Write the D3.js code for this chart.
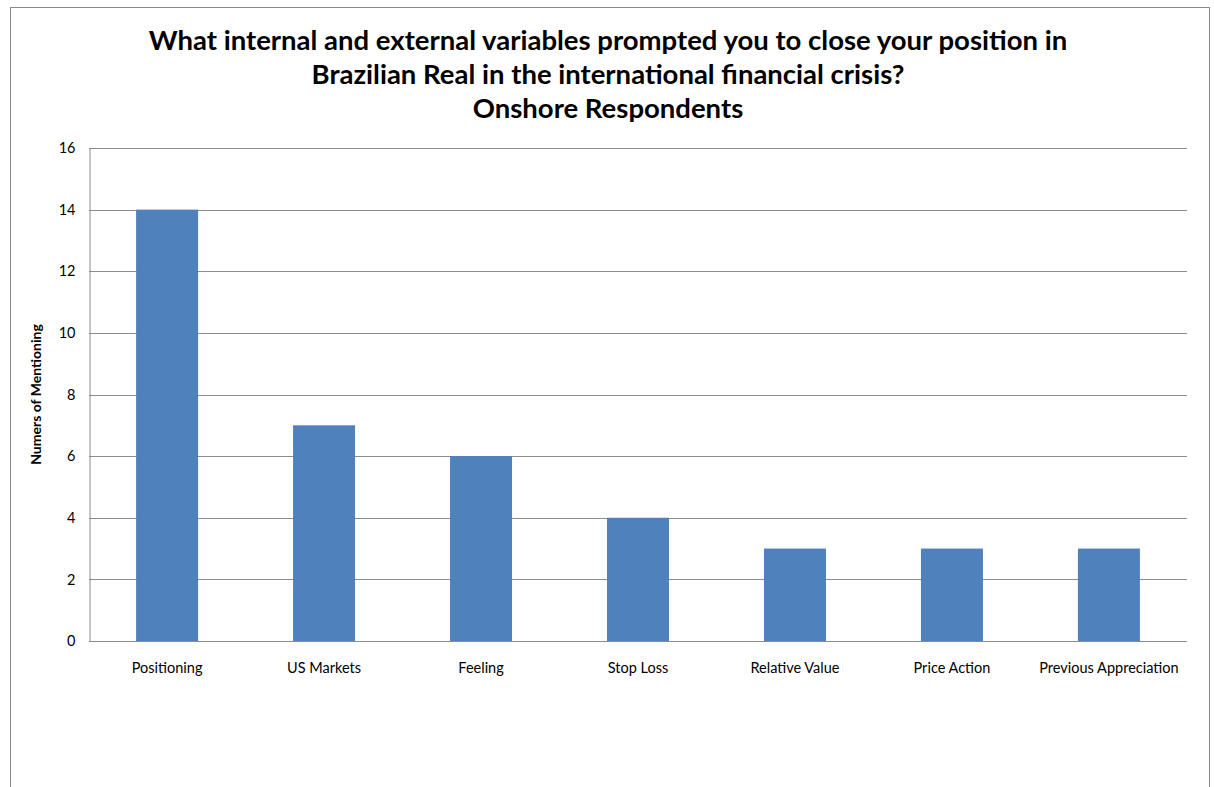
<!DOCTYPE html>
<html><head><meta charset="utf-8">
<script src="https://cdn.jsdelivr.net/npm/d3@7"></script>
<style>body{margin:0;background:#fff;} svg{display:block;}</style>
</head><body>
<svg id="c" width="1214" height="787"></svg>
<script>
const titleLines = ["What internal and external variables prompted you to close your position in", "Brazilian Real in the international financial crisis?", "Onshore Respondents"];
const categories = ["Positioning", "US Markets", "Feeling", "Stop Loss", "Relative Value", "Price Action", "Previous Appreciation"];
const values = [14, 7, 6, 4, 3, 3, 3];
const yTicks = [0, 2, 4, 6, 8, 10, 12, 14, 16];
const yLabel = "Numers of Mentioning";

const svg = d3.select("#c");
const font = "Lato, 'Open Sans', sans-serif";
svg.append("rect").attr("x", 10.5).attr("y", 7.5).attr("width", 1199).attr("height", 800)
  .attr("fill", "#fff").attr("stroke", "#8a8a8a").attr("stroke-width", 1);

const L = 89, R = 1187, T = 148, B = 641;
const x = d3.scaleBand().domain(categories).range([L, R]).paddingInner(0.605).paddingOuter(0.3);
const y = d3.scaleLinear().domain([0, 16]).range([B, T]);

// gridlines
svg.append("g").selectAll("line").data(yTicks).join("line")
  .attr("x1", L).attr("x2", R).attr("y1", d => Math.round(y(d)) + 0.5).attr("y2", d => Math.round(y(d)) + 0.5)
  .attr("stroke", "#8c8c8c").attr("stroke-width", 1);

// bars
svg.append("g").selectAll("rect").data(values).join("rect")
  .attr("x", (d, i) => x(categories[i]))
  .attr("width", x.bandwidth())
  .attr("y", d => y(d))
  .attr("height", d => B - y(d))
  .attr("fill", "#4F81BD");

// y axis
const ya = svg.append("g").attr("transform", `translate(${L + 0.5},0)`)
  .call(d3.axisLeft(y).tickValues(yTicks).tickSize(0).tickPadding(14));
ya.select(".domain").attr("stroke", "#8c8c8c");
ya.selectAll("text").attr("font-family", font).attr("font-size", 14.5).attr("fill", "#000");

// x axis
const xa = svg.append("g").attr("transform", `translate(0,${B})`)
  .call(d3.axisBottom(x).tickSize(0).tickPadding(22));
xa.select(".domain").remove();
xa.selectAll("text").attr("font-family", font).attr("font-size", 14.5).attr("fill", "#000");

// y label
svg.append("text").attr("transform", `translate(41,${(T + B) / 2}) rotate(-90)`)
  .attr("text-anchor", "middle").attr("font-family", font).attr("font-weight", "bold")
  .attr("font-size", 14).text(yLabel);

// title
const tys = [50, 84, 118];
svg.append("g").selectAll("text").data(titleLines).join("text")
  .attr("x", 608).attr("y", (d, i) => tys[i]).attr("text-anchor", "middle")
  .attr("font-family", font).attr("font-weight", "bold").attr("font-size", 27.5)
  .attr("fill", "#000").text(d => d);
</script>
</body></html>
